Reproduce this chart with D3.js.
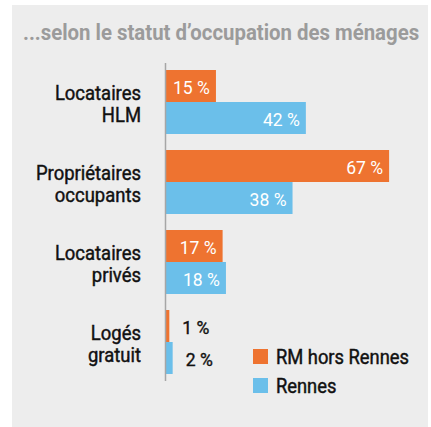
<!DOCTYPE html>
<html>
<head>
<meta charset="utf-8">
<script src="https://cdn.jsdelivr.net/npm/d3@7"></script>
<style>
  html, body { margin: 0; padding: 0; background: #ffffff; }
  svg { display: block; }
  text { font-family: Roboto, "Liberation Sans", sans-serif; }
</style>
</head>
<body>
<svg id="chart" width="431" height="427"></svg>
<script>
const title = "...selon le statut d\u2019occupation des ménages";
const categories = [["Locataires", "HLM"], ["Propriétaires", "occupants"], ["Locataires", "privés"], ["Logés", "gratuit"]];
const seriesNames = ["RM hors Rennes", "Rennes"];
const rmHorsRennes = [15, 67, 17, 1];
const rennes = [42, 38, 18, 2];
const colors = ["#ee7330", "#6bbfea"];

const svg = d3.select("#chart");
const W = 431, H = 427;

// condensed text helper: horizontal squeeze around anchor point
function ctext(parent, px, py, str, opts) {
  const g = parent.append("g").attr("transform", `translate(${px},${py}) scale(${opts.sx || 1},1)`);
  const fill = opts.fill || "#111111";
  return g.append("text").attr("x", 0).attr("y", 0)
    .attr("text-anchor", opts.anchor || "start")
    .attr("fill", fill)
    .attr("stroke", opts.stroke ? fill : "none")
    .attr("stroke-width", opts.stroke || 0)
    .attr("font-size", opts.size || 18)
    .attr("font-weight", opts.weight || "normal")
    .text(str);
}

// panel
svg.append("rect").attr("x", 12).attr("y", 5).attr("width", 416).attr("height", H - 5).attr("fill", "#ededed");

// title, fitted to width
const t = ctext(svg, 23, 40, title, { fill: "#9b9b9b", weight: "bold", size: 18, sx: 0.9 });
const tl = t.node().getComputedTextLength();
t.attr("font-size", 18 * 396 / (tl * 0.9));

const x = d3.scaleLinear().domain([0, 100]).range([166, 499]);
const y0 = d3.scaleBand().domain(d3.range(categories.length)).range([62, 382]).paddingInner(0.2).paddingOuter(0.1);
const y1 = d3.scaleBand().domain([0, 1]).range([0, y0.bandwidth()]);

const series = [rmHorsRennes, rennes];

const groups = svg.selectAll("g.grp").data(categories).join("g").attr("class", "grp")
  .attr("transform", (d, i) => `translate(0,${y0(i)})`);

series.forEach((vals, s) => {
  groups.append("rect")
    .attr("x", x(0))
    .attr("y", y1(s))
    .attr("width", (d, i) => x(vals[i]) - x(0))
    .attr("height", y1.bandwidth())
    .attr("fill", colors[s]);
  groups.each(function (d, i) {
    const v = vals[i];
    const inside = v >= 10;
    ctext(d3.select(this), inside ? x(v) - 6 : x(v) + 13, y1(s) + y1.bandwidth() / 2 + 7.5, v + " %", {
      anchor: inside ? "end" : "start",
      fill: inside ? "#ffffff" : "#111111",
      size: 18.5, sx: 0.95, stroke: inside ? 0 : 0.4
    });
  });
});

// category labels
groups.each(function (d) {
  const g = d3.select(this);
  const c = y0.bandwidth() / 2;
  d.forEach((line, k) => {
    ctext(g, 141, c - 2 + k * 22, line, { anchor: "end", size: 20.5, sx: 0.9, stroke: 0.45 });
  });
});

// axis line
svg.append("line").attr("x1", x(0) - 0.5).attr("x2", x(0) - 0.5).attr("y1", 63).attr("y2", 381)
  .attr("stroke", "#a6a6a6").attr("stroke-width", 1.5);

// legend
const lg = svg.append("g").attr("transform", "translate(253,349)");
seriesNames.forEach((n, i) => {
  lg.append("rect").attr("x", 0).attr("y", i * 29).attr("width", 15).attr("height", 15).attr("fill", colors[i]);
  ctext(lg, 23, i * 29 + 15, n, { size: 19.5, sx: 0.94, stroke: 0.45 });
});
</script>
</body>
</html>
